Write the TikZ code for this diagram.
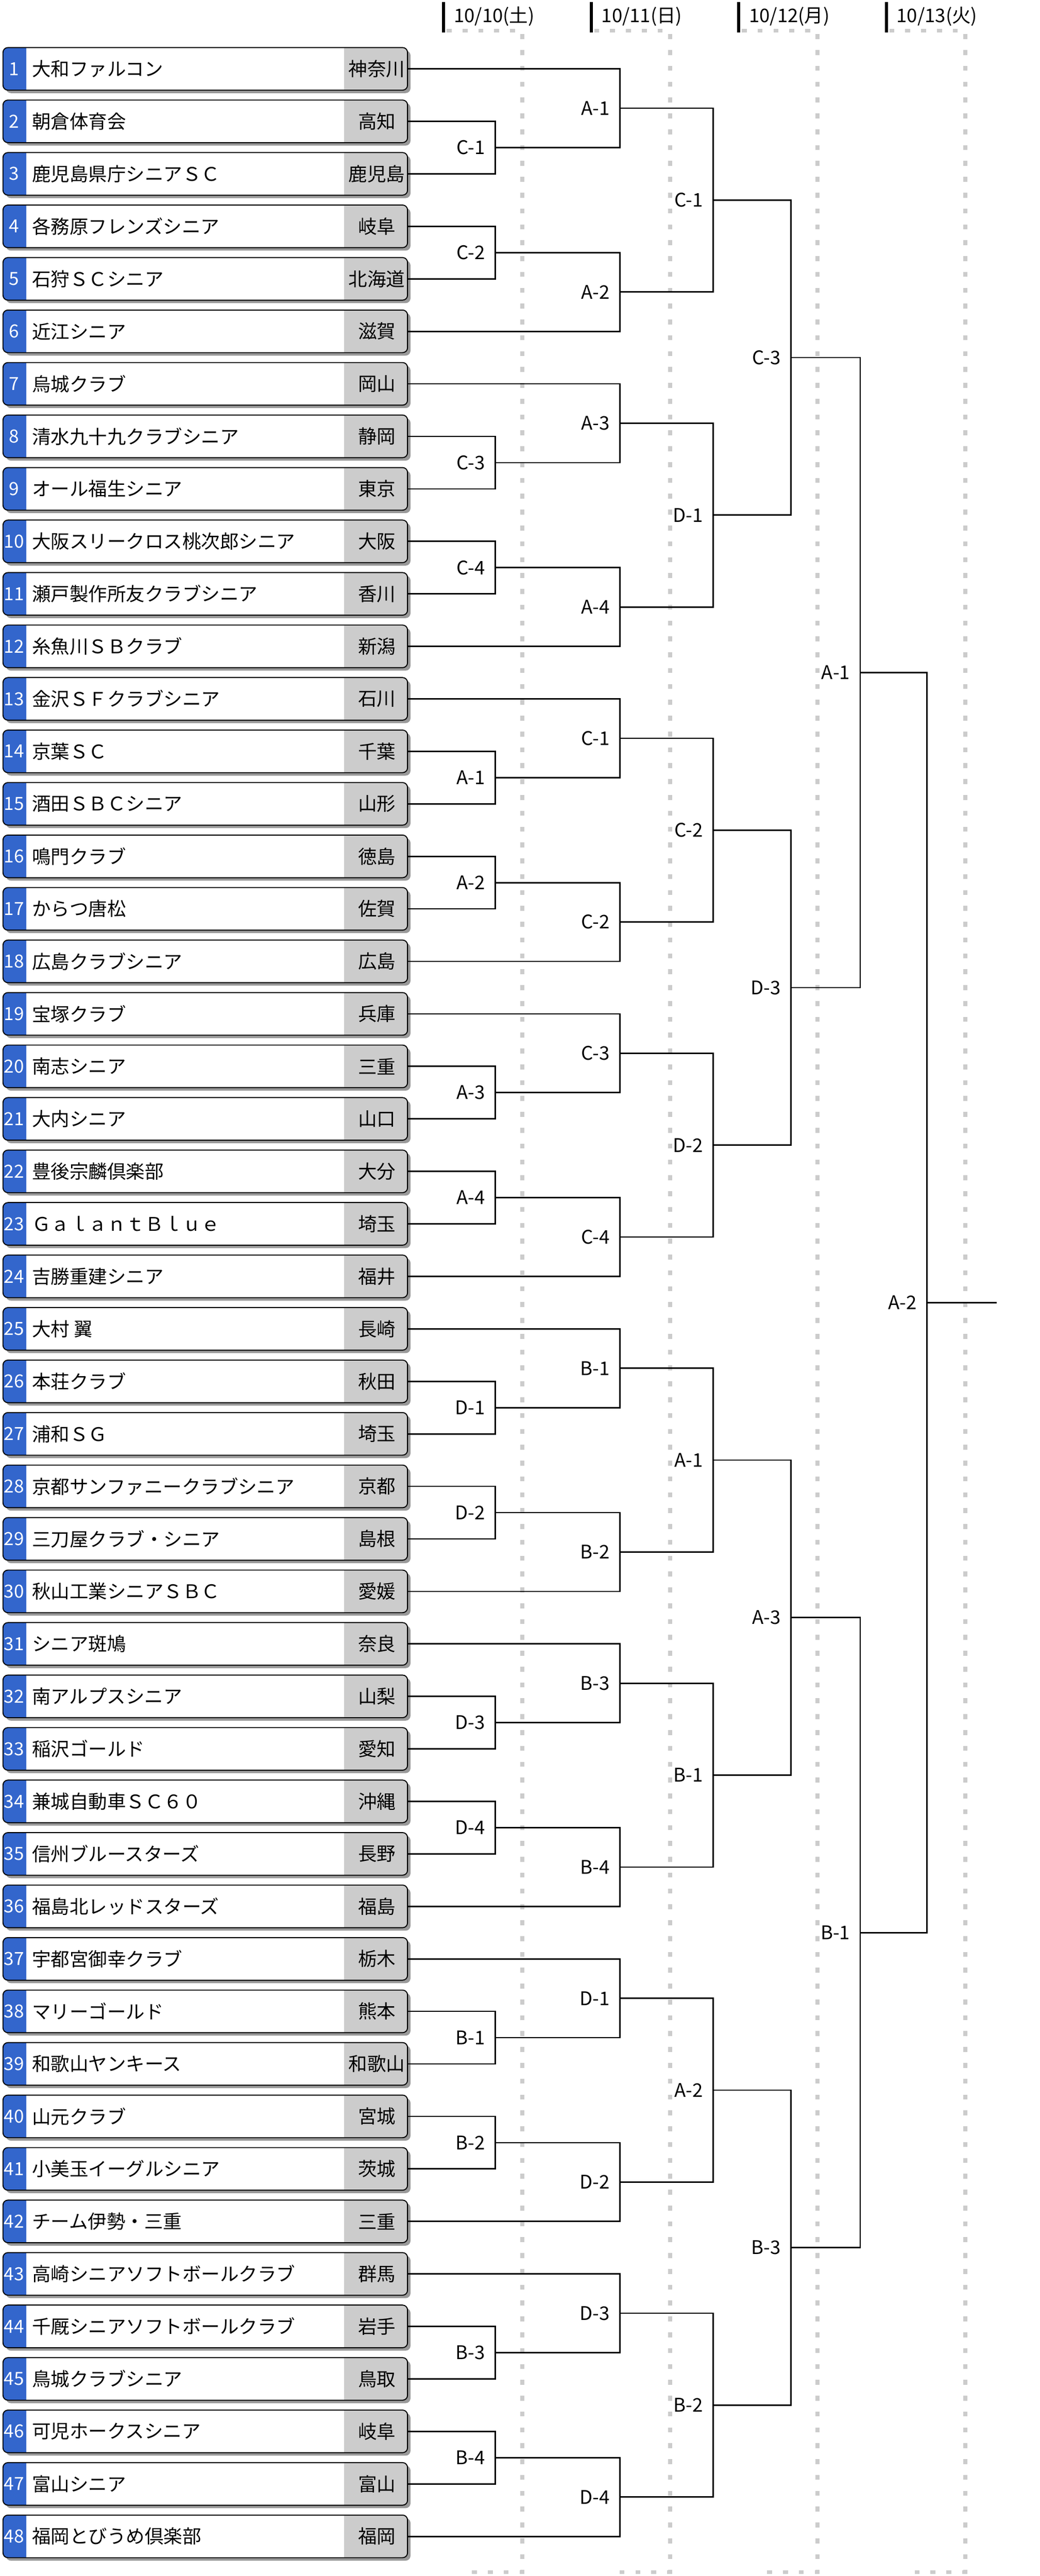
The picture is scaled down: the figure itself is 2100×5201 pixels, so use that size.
\documentclass[tikz,border=0pt]{standalone}
\usepackage{fontspec}
\setmainfont{Noto Sans CJK JP}
\usetikzlibrary{positioning,calc,shadows}

\definecolor{seedblue}{HTML}{3366CC}
\definecolor{prefgray}{HTML}{CCCCCC}

\begin{document}
\begin{tikzpicture}[
        x=0.1mm, y=-0.1mm,
        entry/.style={draw, line width=0.2mm, rounded corners=1mm, fill=white,
            minimum width=81.7mm, minimum height=8.6mm, inner sep=0pt,
            drop shadow={shadow xshift=0.6mm, shadow yshift=-0.6mm, fill=black!40, opacity=1},
            path picture={
                \fill[seedblue, sharp corners] (path picture bounding box.south west) rectangle ([xshift=4.7mm]path picture bounding box.north west);
                \fill[prefgray, sharp corners] ([xshift=-12.8mm]path picture bounding box.south east) rectangle (path picture bounding box.north east);
            }},
        seed/.style={text=white, inner sep=0pt, font=\fontsize{10.4}{12}\selectfont},
        team/.style={inner sep=0pt, font=\fontsize{10.8}{13}\selectfont},
        tag/.style={anchor=east, inner sep=0pt, font=\fontsize{10.8}{13}\selectfont},
        day/.style={anchor=west, inner sep=0pt, font=\fontsize{10.8}{13}\selectfont},
        daybar/.style={line width=0.6mm},
        guide/.style={draw=black!20, line width=0.8mm, dash pattern=on 1mm off 2.2mm},
        bracket/.style={line width=0.28mm}
    ]
        \useasboundingbox (0,0) rectangle (2100,5201);

        % Day headers
        \foreach \x/\dnum/\dow in {896/10/土, 1194/11/日, 1492/12/月, 1790/13/火}{
            \draw[guide] ({\x+6},62) -- ({\x+159},62) -- ({\x+159},5193) -- ({\x+48},5193);
            \draw[daybar] (\x,4) -- (\x,66);
            \node[day] (d\dnum) at ({\x+20},33) {10/\dnum(\dow)};
        }

        % Columns
        \coordinate (c1) at (1000,0);
        \coordinate (c2) at (1252,0);
        \coordinate (c3) at (1440,0);
        \coordinate (c4) at (1597,0);
        \coordinate (c5) at (1737,0);
        \coordinate (c6) at (1872,0);
        \coordinate (c7) at (2013,0);

        % Teams
        \foreach \i/\team/\pref in {
            1/大和ファルコン/神奈川, 2/朝倉体育会/高知, 3/鹿児島県庁シニアＳＣ/鹿児島,
            4/各務原フレンズシニア/岐阜, 5/石狩ＳＣシニア/北海道, 6/近江シニア/滋賀,
            7/烏城クラブ/岡山, 8/清水九十九クラブシニア/静岡, 9/オール福生シニア/東京,
            10/大阪スリークロス桃次郎シニア/大阪, 11/瀬戸製作所友クラブシニア/香川, 12/糸魚川ＳＢクラブ/新潟,
            13/金沢ＳＦクラブシニア/石川, 14/京葉ＳＣ/千葉, 15/酒田ＳＢＣシニア/山形,
            16/鳴門クラブ/徳島, 17/からつ唐松/佐賀, 18/広島クラブシニア/広島,
            19/宝塚クラブ/兵庫, 20/南志シニア/三重, 21/大内シニア/山口,
            22/豊後宗麟倶楽部/大分, 23/ＧａｌａｎｔＢｌｕｅ/埼玉, 24/吉勝重建シニア/福井,
            25/大村 翼/長崎, 26/本荘クラブ/秋田, 27/浦和ＳＧ/埼玉,
            28/京都サンファニークラブシニア/京都, 29/三刀屋クラブ・シニア/島根, 30/秋山工業シニアＳＢＣ/愛媛,
            31/シニア斑鳩/奈良, 32/南アルプスシニア/山梨, 33/稲沢ゴールド/愛知,
            34/兼城自動車ＳＣ６０/沖縄, 35/信州ブルースターズ/長野, 36/福島北レッドスターズ/福島,
            37/宇都宮御幸クラブ/栃木, 38/マリーゴールド/熊本, 39/和歌山ヤンキース/和歌山,
            40/山元クラブ/宮城, 41/小美玉イーグルシニア/茨城, 42/チーム伊勢・三重/三重,
            43/高崎シニアソフトボールクラブ/群馬, 44/千厩シニアソフトボールクラブ/岩手, 45/鳥城クラブシニア/鳥取,
            46/可児ホークスシニア/岐阜, 47/富山シニア/富山, 48/福岡とびうめ倶楽部/福岡}{
            \node[entry] (t\i) at (414.5,{139+(\i-1)*106}) {};
            \node[seed] (s\i) at ([xshift=2.35mm]t\i.west) {\i};
            \node[team, anchor=west] (n\i) at ([xshift=5.9mm]t\i.west) {\team};
            \node[team] (p\i) at ([xshift=-6.3mm]t\i.east) {\pref};
        }

        % Round 1
        \foreach \a/\b/\m/\lab in {
            t2.east/t3.east/r1m1/C-1, t4.east/t5.east/r1m2/C-2, t8.east/t9.east/r1m3/C-3, t10.east/t11.east/r1m4/C-4,
            t14.east/t15.east/r1m5/A-1, t16.east/t17.east/r1m6/A-2, t20.east/t21.east/r1m7/A-3, t22.east/t23.east/r1m8/A-4,
            t26.east/t27.east/r1m9/D-1, t28.east/t29.east/r1m10/D-2, t32.east/t33.east/r1m11/D-3, t34.east/t35.east/r1m12/D-4,
            t38.east/t39.east/r1m13/B-1, t40.east/t41.east/r1m14/B-2, t44.east/t45.east/r1m15/B-3, t46.east/t47.east/r1m16/B-4}{
            \draw[bracket] (\a) -- (\a -| c1) -- (\b -| c1) -- (\b);
            \coordinate (\m) at ($(\a -| c1)!0.5!(\b -| c1)$);
            \node[tag] (l\m) at ([xshift=-2mm]\m) {\lab};
        }

        % Round 2
        \foreach \a/\b/\m/\lab in {
            t1.east/r1m1/r2m1/A-1, r1m2/t6.east/r2m2/A-2, t7.east/r1m3/r2m3/A-3, r1m4/t12.east/r2m4/A-4,
            t13.east/r1m5/r2m5/C-1, r1m6/t18.east/r2m6/C-2, t19.east/r1m7/r2m7/C-3, r1m8/t24.east/r2m8/C-4,
            t25.east/r1m9/r2m9/B-1, r1m10/t30.east/r2m10/B-2, t31.east/r1m11/r2m11/B-3, r1m12/t36.east/r2m12/B-4,
            t37.east/r1m13/r2m13/D-1, r1m14/t42.east/r2m14/D-2, t43.east/r1m15/r2m15/D-3, r1m16/t48.east/r2m16/D-4}{
            \draw[bracket] (\a) -- (\a -| c2) -- (\b -| c2) -- (\b);
            \coordinate (\m) at ($(\a -| c2)!0.5!(\b -| c2)$);
            \node[tag] (l\m) at ([xshift=-2mm]\m) {\lab};
        }

        % Round 3
        \foreach \a/\b/\m/\lab in {
            r2m1/r2m2/r3m1/C-1, r2m3/r2m4/r3m2/D-1, r2m5/r2m6/r3m3/C-2, r2m7/r2m8/r3m4/D-2,
            r2m9/r2m10/r3m5/A-1, r2m11/r2m12/r3m6/B-1, r2m13/r2m14/r3m7/A-2, r2m15/r2m16/r3m8/B-2}{
            \draw[bracket] (\a) -- (\a -| c3) -- (\b -| c3) -- (\b);
            \coordinate (\m) at ($(\a -| c3)!0.5!(\b -| c3)$);
            \node[tag] (l\m) at ([xshift=-2mm]\m) {\lab};
        }

        % Round 4
        \foreach \a/\b/\m/\lab in {r3m1/r3m2/r4m1/C-3, r3m3/r3m4/r4m2/D-3, r3m5/r3m6/r4m3/A-3, r3m7/r3m8/r4m4/B-3}{
            \draw[bracket] (\a) -- (\a -| c4) -- (\b -| c4) -- (\b);
            \coordinate (\m) at ($(\a -| c4)!0.5!(\b -| c4)$);
            \node[tag] (l\m) at ([xshift=-2mm]\m) {\lab};
        }

        % Semi-finals
        \foreach \a/\b/\m/\lab in {r4m1/r4m2/r5m1/A-1, r4m3/r4m4/r5m2/B-1}{
            \draw[bracket] (\a) -- (\a -| c5) -- (\b -| c5) -- (\b);
            \coordinate (\m) at ($(\a -| c5)!0.5!(\b -| c5)$);
            \node[tag] (l\m) at ([xshift=-2mm]\m) {\lab};
        }

        % Final
        \draw[bracket] (r5m1) -- (r5m1 -| c6) -- (r5m2 -| c6) -- (r5m2);
        \coordinate (r6m1) at ($(r5m1 -| c6)!0.5!(r5m2 -| c6)$);
        \node[tag] (lr6m1) at ([xshift=-2mm]r6m1) {A-2};
        \draw[bracket] (r6m1) -- (r6m1 -| c7);

    \end{tikzpicture}
\end{document}
